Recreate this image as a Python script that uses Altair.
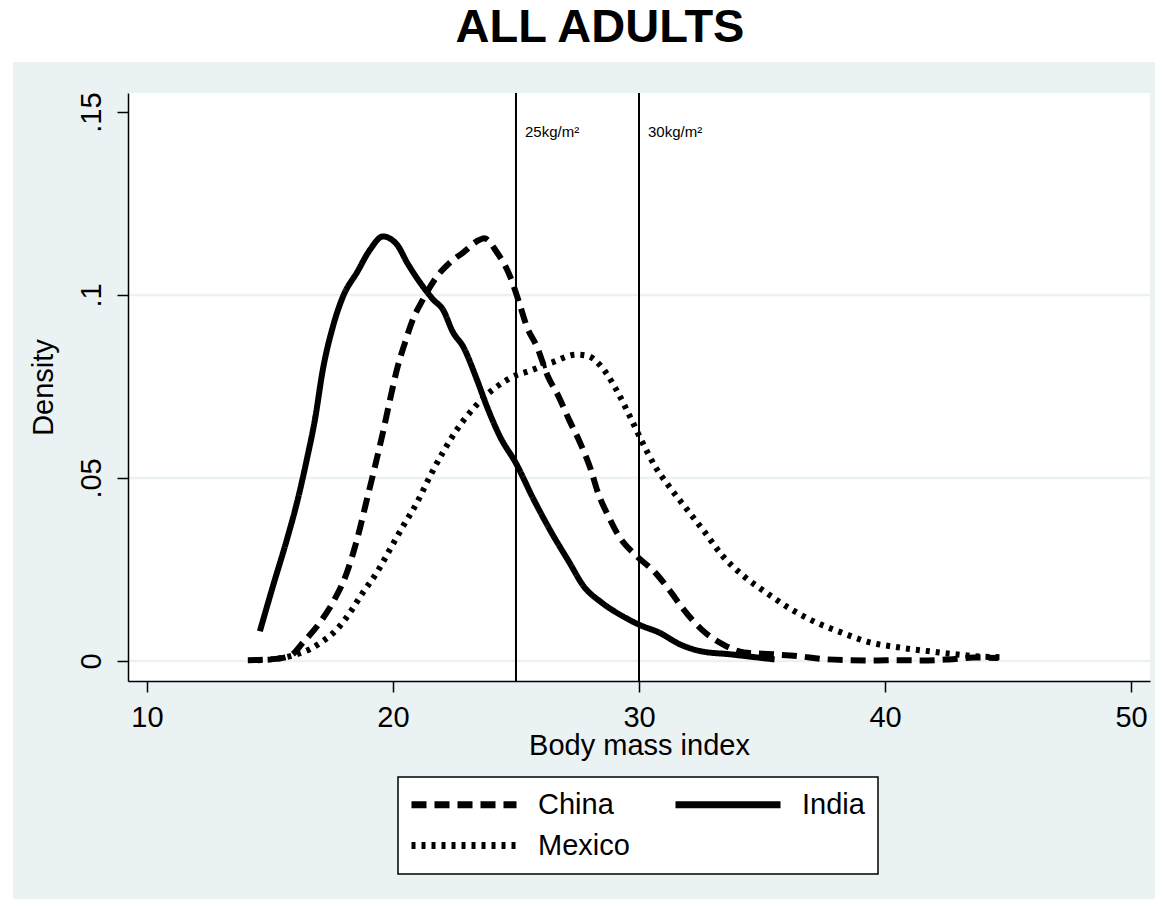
import altair as alt
import pandas as pd

# ---------------- data ----------------
china_bmi = [14.1, 15.0, 15.8, 16.34, 17.03, 17.56, 18.13, 18.54, 18.94, 19.27, 19.59, 19.88,
             20.16, 20.49, 20.81, 21.22, 21.79, 22.32, 22.85, 23.5, 23.7, 24.23, 24.76, 25.1,
             25.45, 25.85, 26.30, 26.73, 27.15, 27.60, 28.04, 28.33, 28.76, 29.19, 29.91, 30.65,
             31.22, 31.81, 32.54, 33.41, 34.27, 35.44, 36.46, 37.48, 38.46, 39.51, 40.49, 41.54,
             42.6, 43.6, 44.6]
china_density = [0.0002, 0.0004, 0.0013, 0.0050, 0.0105, 0.0160, 0.0242, 0.0332, 0.0441, 0.0532,
                 0.0624, 0.0714, 0.0796, 0.0870, 0.0933, 0.0988, 0.1051, 0.1089, 0.1116, 0.1150,
                 0.1155, 0.1116, 0.1051, 0.0985, 0.0912, 0.0859, 0.0777, 0.0723, 0.0660, 0.0597,
                 0.0523, 0.0460, 0.0395, 0.0340, 0.0286, 0.0242, 0.0195, 0.0141, 0.0086, 0.0045,
                 0.0023, 0.0018, 0.0013, 0.0005, 0.0002, 0.0001, 0.0002, 0.0001, 0.0004, 0.0009,
                 0.0008]

india_bmi = [14.59, 15.12, 15.69, 16.10, 16.50, 16.83, 17.15, 17.56, 17.97, 18.54, 19.07, 19.59,
             20.16, 20.57, 21.10, 21.63, 22.03, 22.44, 22.85, 23.41, 23.82, 24.35, 25.00, 25.72,
             26.44, 27.17, 27.75, 28.47, 29.34, 30.07, 30.80, 31.67, 32.54, 33.70, 34.72, 35.51]
india_density = [0.0081, 0.0204, 0.0332, 0.0433, 0.0551, 0.0660, 0.0796, 0.0914, 0.0996, 0.1062,
                 0.1124, 0.1160, 0.1138, 0.1089, 0.1034, 0.0988, 0.0960, 0.0898, 0.0859, 0.0769,
                 0.0695, 0.0613, 0.0540, 0.0441, 0.0351, 0.0269, 0.0204, 0.0160, 0.0122, 0.0097,
                 0.0078, 0.0045, 0.0026, 0.0018, 0.0010, 0.0004]

mexico_bmi = [14.5, 15.3, 16.1, 16.63, 17.15, 17.72, 18.25, 18.78, 19.35, 19.88, 20.41, 20.98,
              21.50, 22.03, 22.60, 23.13, 23.66, 24.23, 24.88, 25.49, 26.44, 27.46, 27.89, 28.46,
              29.07, 29.63, 30.08, 30.65, 31.22, 31.95, 32.68, 33.41, 34.27, 35.16, 36.18, 37.2,
              38.21, 39.35, 40.53, 41.83, 42.85, 43.86, 44.72]
mexico_density = [0.0002, 0.0006, 0.0018, 0.0032, 0.0054, 0.0086, 0.0132, 0.0187, 0.0242, 0.0305,
                  0.0368, 0.0433, 0.0504, 0.0570, 0.0632, 0.0679, 0.0718, 0.0750, 0.0777, 0.0791,
                  0.0815, 0.0837, 0.0834, 0.0805, 0.0742, 0.0668, 0.0605, 0.0532, 0.0477, 0.0414,
                  0.0351, 0.0286, 0.0231, 0.0187, 0.0141, 0.0105, 0.0078, 0.0051, 0.0037, 0.0026,
                  0.0018, 0.0012, 0.0010]

countries = ["China", "India", "Mexico"]
ref_lines = [25, 30]
ref_labels = ["25kg/m²", "30kg/m²"]
ref_label_y = [0.1445, 0.1445]
x_ticks = [10, 20, 30, 40, 50]
y_ticks = [0, 0.05, 0.1, 0.15]
grid_vals = [0, 0.05, 0.1]

# ---------------- styling ----------------
FONT = "Liberation Sans"
BG = "#EAF2F3"
GRID = "#EAF2F3"
W, H = 1022, 588

rows = []
for name, xs, ys in [("China", china_bmi, china_density),
                     ("India", india_bmi, india_density),
                     ("Mexico", mexico_bmi, mexico_density)]:
    for a, b in zip(xs, ys):
        rows.append({"country": name, "bmi": a, "density": b})
curves = pd.DataFrame(rows)
refs = pd.DataFrame({"bmi": ref_lines, "label": ref_labels, "density": ref_label_y})
grid = pd.DataFrame({"density": grid_vals})
one = pd.DataFrame({"k": [0]})

xscale = alt.Scale(domain=[9.23, 50.77], nice=False, zero=False)
yscale = alt.Scale(domain=[-0.0055, 0.1552], nice=False, zero=False)

xaxis = alt.Axis(values=x_ticks, title="Body mass index", labelFlush=False, grid=False,
                 tickSize=11, labelPadding=34, labelBaseline="alphabetic",
                 titleX=W / 2, titleY=73, titleBaseline="alphabetic", titleAlign="center",
                 zindex=1)
yaxis = alt.Axis(values=y_ticks, title="Density", grid=False, tickSize=11,
                 labelAngle=270, labelAlign="center", labelBaseline="alphabetic", labelPadding=17,
                 labelExpr="datum.value == 0 ? '0' : replace(format(datum.value, '.2~f'), '0.', '.')",
                 titleAngle=270, titleX=-76, titleY=H / 2, titleBaseline="alphabetic",
                 titleAlign="center", zindex=1)

X = alt.X("bmi:Q", scale=xscale, axis=xaxis)
Y = alt.Y("density:Q", scale=yscale, axis=yaxis)

blue = alt.Chart(one).mark_rect(color=BG).encode(
    x=alt.value(-115), x2=alt.value(1040), y=alt.value(-31), y2=alt.value(830))
white = alt.Chart(one).mark_rect(color="white").encode(
    x=alt.value(0), x2=alt.value("width"), y=alt.value(0), y2=alt.value("height"))

gridlines = alt.Chart(grid).mark_rule(color=GRID, strokeWidth=2.5).encode(y=Y)
vlines = alt.Chart(refs).mark_rule(color="black", strokeWidth=2).encode(x=X)
vlabels = alt.Chart(refs).mark_text(align="left", baseline="middle", dx=9, fontSize=15,
                                    font=FONT, color="black").encode(x=X, y=Y, text="label:N")

# legend symbol: a 105px horizontal stroke starting at the entry's left edge
SYM_PATH = "M-1.3333,0H8.6667"

lines = alt.Chart(curves).mark_line(color="black", strokeWidth=6, interpolate="monotone",
                                    strokeCap="butt").encode(
    x=X, y=Y,
    strokeDash=alt.StrokeDash(
        "country:N",
        scale=alt.Scale(domain=countries, range=[[15, 8], [1, 0], [4, 6]]),
        legend=alt.Legend(title=None, orient="none", legendX=270, legendY=684, columns=2,
                          direction="horizontal",
                          symbolType=SYM_PATH, symbolSize=441, symbolStrokeWidth=7,
                          symbolStrokeColor="black", labelFontSize=29, labelFont=FONT,
                          labelColor="black", labelOffset=98, columnPadding=31, rowPadding=11,
                          padding=13, strokeColor="black", fillColor="white", zindex=1)),
    detail="country:N")

chart = alt.layer(blue, white, gridlines, vlines, lines, vlabels).properties(
    width=W, height=H,
    title=alt.Title("ALL ADULTS", fontSize=47, fontWeight="bold", font=FONT, color="black",
                    anchor="middle", dx=-39, dy=46, offset=19, baseline="alphabetic"),
    autosize=alt.AutoSizeParams(type="none"),
    padding={"left": 120, "top": 85, "right": 5, "bottom": 218},
    background="white",
).configure_view(strokeWidth=0).configure_axis(
    domainColor="black", domainWidth=1.5, tickColor="black", tickWidth=1.5,
    labelFont=FONT, labelFontSize=29, labelColor="black",
    titleFont=FONT, titleFontSize=29, titleFontWeight="normal", titleColor="black",
).configure_legend(strokeWidth=1.5)

chart.save("out.html", embed_options={"renderer": "svg", "actions": False})
